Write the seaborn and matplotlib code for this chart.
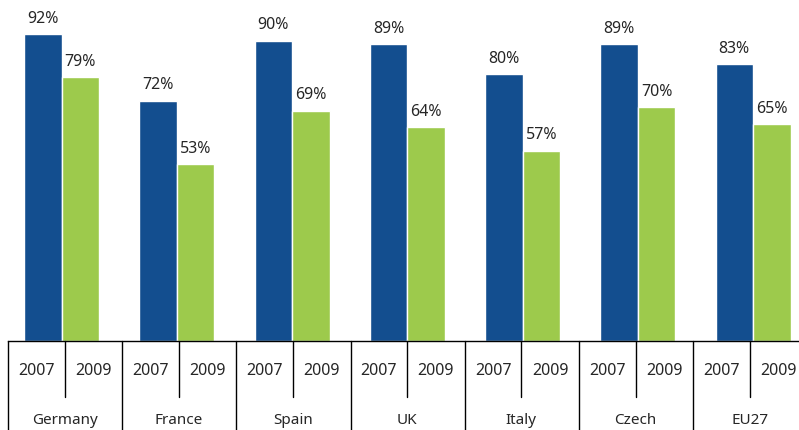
import matplotlib
matplotlib.use("Agg")
import matplotlib.pyplot as plt
import matplotlib.transforms as mtransforms
import seaborn as sns
import pandas as pd

countries = ["Germany", "France", "Spain", "UK", "Italy", "Czech", "EU27"]
years = ["2007", "2009"]
values_2007 = [92, 72, 90, 89, 80, 89, 83]
values_2009 = [79, 53, 69, 64, 57, 70, 65]
colors = ["#134E8F", "#9DCA4C"]

df = pd.DataFrame({
    "country": countries * 2,
    "year": [years[0]] * len(countries) + [years[1]] * len(countries),
    "value": values_2007 + values_2009,
})

sns.set_style("white")
plt.rcParams["font.family"] = ["Noto Sans", "DejaVu Sans"]
text_color = "#262626"

W, H = 799, 431
fig = plt.figure(figsize=(W / 100, H / 100), dpi=100)
ax_left, ax_right, ax_top, ax_base = 8, 799, 8.3, 342
ax = fig.add_axes([ax_left / W, (H - ax_base) / H, (ax_right - ax_left) / W, (ax_base - ax_top) / H])

bar_group_px = 115.25
bar_center0_px = 61.5

sns.barplot(data=df, x="country", y="value", hue="year", palette=colors,
            width=75 / bar_group_px, linewidth=1, edgecolor="white", legend=False, ax=ax,
            saturation=1)

for cont in ax.containers:
    ax.bar_label(cont, fmt="{:.0f}%", padding=6, fontsize=11.5, color=text_color)

def px2x(px):
    return (px - bar_center0_px) / bar_group_px

ax.set_xlim(px2x(ax_left), px2x(ax_right))
ax.set_ylim(0, 100)
ax.set_xticks([])
ax.set_yticks([])
ax.set_xlabel("")
ax.set_ylabel("")
for s in ["left", "right", "top"]:
    ax.spines[s].set_visible(False)
ax.spines["bottom"].set_color("black")
ax.spines["bottom"].set_linewidth(1)

trans = mtransforms.blended_transform_factory(ax.transData, ax.transAxes)
hpx = ax_base - ax_top
def ya(py):
    return (ax_base - py) / hpx

sep_step = 114.17
div_step = 114.1
for i in range(len(countries) + 1):
    x = px2x(8 + sep_step * i)
    ax.plot([x, x], [ya(ax_base), ya(H + 2)], color="black", lw=1,
            transform=trans, clip_on=False)
for i, c in enumerate(countries):
    sep_l = 8 + sep_step * i
    sep_r = 8 + sep_step * (i + 1)
    div = 65 + div_step * i
    xi = px2x(div)
    ax.plot([xi, xi], [ya(ax_base), ya(398)], color="black", lw=1,
            transform=trans, clip_on=False)
    ax.text(px2x((sep_l + div) / 2), ya(375), years[0], transform=trans, ha="center",
            va="baseline", fontsize=11.5, color=text_color)
    ax.text(px2x((div + sep_r) / 2), ya(375), years[1], transform=trans, ha="center",
            va="baseline", fontsize=11.5, color=text_color)
    ax.text(xi, ya(424), c, transform=trans, ha="center", va="baseline",
            fontsize=11, color=text_color)

fig.savefig("out.png", dpi=100)
